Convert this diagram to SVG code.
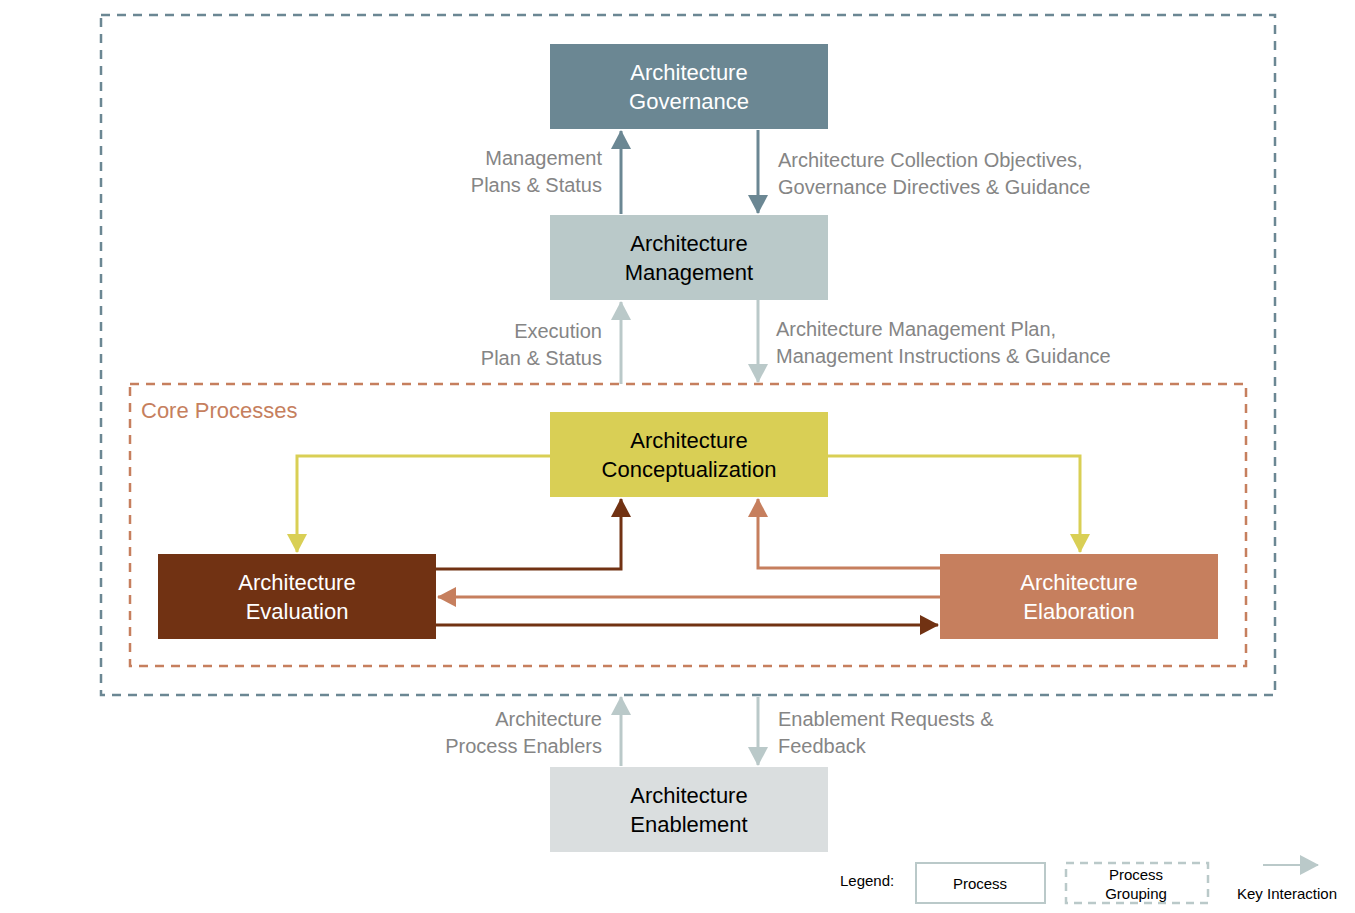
<svg xmlns="http://www.w3.org/2000/svg" width="1355" height="913" viewBox="0 0 1355 913">
<style>
text{font-family:"Liberation Sans",Arial,sans-serif}
.n{font-size:22px;text-anchor:middle}
.l{font-size:20px;fill:#858585}
.r{text-anchor:end}
</style>
<defs>
<marker id="aG" markerUnits="userSpaceOnUse" markerWidth="20" markerHeight="20" refX="18" refY="10" orient="auto"><path d="M0,0L19,10L0,20z" fill="#6B8793"/></marker>
<marker id="aM" markerUnits="userSpaceOnUse" markerWidth="20" markerHeight="20" refX="18" refY="10" orient="auto"><path d="M0,0L19,10L0,20z" fill="#BAC9C9"/></marker>
<marker id="aY" markerUnits="userSpaceOnUse" markerWidth="20" markerHeight="20" refX="18" refY="10" orient="auto"><path d="M0,0L19,10L0,20z" fill="#D9CF55"/></marker>
<marker id="aB" markerUnits="userSpaceOnUse" markerWidth="20" markerHeight="20" refX="18" refY="10" orient="auto"><path d="M0,0L19,10L0,20z" fill="#713213"/></marker>
<marker id="aO" markerUnits="userSpaceOnUse" markerWidth="20" markerHeight="20" refX="18" refY="10" orient="auto"><path d="M0,0L19,10L0,20z" fill="#C67F5E"/></marker>
</defs>
<rect width="1355" height="913" fill="#fff"/>
<rect x="101" y="15" width="1174" height="680" fill="none" stroke="#6B8793" stroke-width="2.5" stroke-dasharray="9,7"/>
<rect x="130" y="384" width="1116" height="282" fill="none" stroke="#C67F5E" stroke-width="2.5" stroke-dasharray="9,7"/>
<text x="141" y="418" font-size="22" fill="#C67F5E">Core Processes</text>
<g id="connectors" fill="none" stroke-width="3">
<path d="M621,214V131" stroke="#6B8793" marker-end="url(#aG)"/>
<path d="M758,130V213" stroke="#6B8793" marker-end="url(#aG)"/>
<path d="M621,384V302" stroke="#BAC9C9" marker-end="url(#aM)"/>
<path d="M758,300V382" stroke="#BAC9C9" marker-end="url(#aM)"/>
<path d="M550,456H297V552" stroke="#D9CF55" marker-end="url(#aY)"/>
<path d="M828,456H1080V552" stroke="#D9CF55" marker-end="url(#aY)"/>
<path d="M436,569H621V499" stroke="#713213" marker-end="url(#aB)"/>
<path d="M940,568H758V499" stroke="#C67F5E" marker-end="url(#aO)"/>
<path d="M940,597H438" stroke="#C67F5E" marker-end="url(#aO)"/>
<path d="M436,625H938" stroke="#713213" marker-end="url(#aB)"/>
<path d="M621,766V697" stroke="#BAC9C9" marker-end="url(#aM)"/>
<path d="M758,697V765" stroke="#BAC9C9" marker-end="url(#aM)"/>
<path d="M1263,865H1318" stroke="#BAC9C9" stroke-width="2" marker-end="url(#aM)"/>
</g>
<g id="gov"><rect x="550" y="44" width="278" height="85" fill="#6B8793"/><text class="n" fill="#fff" x="689" y="80">Architecture</text><text class="n" fill="#fff" x="689" y="109">Governance</text></g>
<g id="mgmt"><rect x="550" y="215" width="278" height="85" fill="#BAC9C9"/><text class="n" x="689" y="251">Architecture</text><text class="n" x="689" y="280">Management</text></g>
<g id="concept"><rect x="550" y="412" width="278" height="85" fill="#D9CF55"/><text class="n" x="689" y="448">Architecture</text><text class="n" x="689" y="477">Conceptualization</text></g>
<g id="eval"><rect x="158" y="554" width="278" height="85" fill="#713213"/><text class="n" fill="#fff" x="297" y="590">Architecture</text><text class="n" fill="#fff" x="297" y="619">Evaluation</text></g>
<g id="elab"><rect x="940" y="554" width="278" height="85" fill="#C67F5E"/><text class="n" fill="#fff" x="1079" y="590">Architecture</text><text class="n" fill="#fff" x="1079" y="619">Elaboration</text></g>
<g id="enable"><rect x="550" y="767" width="278" height="85" fill="#DADEDF"/><text class="n" x="689" y="803">Architecture</text><text class="n" x="689" y="832">Enablement</text></g>
<g id="labels">
<text class="l r" x="602" y="165">Management</text><text class="l r" x="602" y="192">Plans &amp; Status</text>
<text class="l" x="778" y="167">Architecture Collection Objectives,</text><text class="l" x="778" y="194">Governance Directives &amp; Guidance</text>
<text class="l r" x="602" y="338">Execution</text><text class="l r" x="602" y="365">Plan &amp; Status</text>
<text class="l" x="776" y="336">Architecture Management Plan,</text><text class="l" x="776" y="363">Management Instructions &amp; Guidance</text>
<text class="l r" x="602" y="726">Architecture</text><text class="l r" x="602" y="753">Process Enablers</text>
<text class="l" x="778" y="726">Enablement Requests &amp;</text><text class="l" x="778" y="753">Feedback</text>
</g>
<g id="legend" font-size="15">
<text x="840" y="886" font-size="15">Legend:</text>
<rect x="916" y="863" width="129" height="40" fill="none" stroke="#BAC9C9" stroke-width="2"/>
<text x="980" y="889" font-size="15" text-anchor="middle">Process</text>
<rect x="1066" y="863" width="142" height="40" fill="none" stroke="#BAC9C9" stroke-width="2.5" stroke-dasharray="8,6"/>
<text x="1136" y="880" font-size="15" text-anchor="middle">Process</text>
<text x="1136" y="899" font-size="15" text-anchor="middle">Grouping</text>
<text x="1237" y="899" font-size="15">Key Interaction</text>
</g>
</svg>
